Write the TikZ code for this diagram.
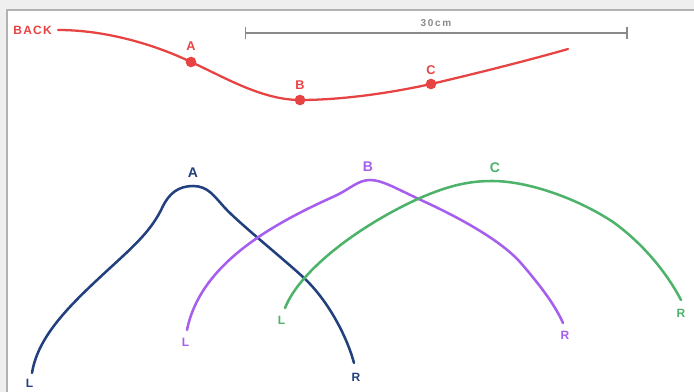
\documentclass[tikz,border=0pt]{standalone}
\usepackage{fontspec}
\setmainfont{Liberation Sans}
\definecolor{bred}{HTML}{E84343}
\definecolor{bnavy}{HTML}{223F7E}
\definecolor{bpurple}{HTML}{A65EEE}
\definecolor{bgreen}{HTML}{4DB36B}
\definecolor{bgray}{HTML}{8A8A8A}
\definecolor{outer}{HTML}{EFEFEF}
\begin{document}
\begin{tikzpicture}[x=0.75pt,y=-0.75pt,
  curve/.style={line width=1.9pt,line cap=round},
  lbl/.style={font=\bfseries\fontsize{10.5}{12}\selectfont,inner sep=0pt},
  endlbl/.style={font=\bfseries\fontsize{9}{11}\selectfont,inner sep=0pt},
  dot/.style={circle,fill=bred,inner sep=0pt,minimum size=8pt}]
\useasboundingbox (0,0) rectangle (694,392);
\fill[outer] (0,0) rectangle (694,392);
\fill[white,draw=gray!60,line width=1.1pt] (7,10) rectangle (710,410);
% scale bar
\coordinate (s1) at (245.5,33);
\coordinate (s2) at (627,33);
\draw[bgray,line width=1.1pt] (s1) -- (s2);
\draw[bgray,line width=1.1pt] ([yshift=-4.5]s1) -- ([yshift=4.5]s1);
\draw[bgray,line width=1.1pt] ([yshift=-4.5]s2) -- ([yshift=4.5]s2);
\node[bgray,font=\bfseries\fontsize{7.5}{9}\selectfont,inner sep=0pt] (scale) at (436,23) {3\,0\,c\,m};
% back curve
\node[bred,inner sep=0pt,font=\bfseries\fontsize{9}{11}\selectfont,anchor=east] (back) at (52,30.5) {B\kern0.9pt A\kern0.9pt C\kern0.9pt K};
\coordinate (r0) at (58,30);
\coordinate (r4) at (568,49);
\node[dot] (pA) at (191,62) {};
\node[dot] (pB) at (300,100) {};
\node[dot] (pC) at (431,84) {};
\draw[bred,curve,line width=1.7pt] (r0) .. controls (110,30) and (160,47) .. (pA.center)
  .. controls (224,77) and (262,100) .. (pB.center)
  .. controls (345,100) and (395,92) .. (pC.center)
  .. controls (470,75) and (530,60) .. (r4);
\node[bred,lbl,font=\bfseries\fontsize{9.5}{11}\selectfont] (tpA) at (191,46.5) {A};
\node[bred,lbl,font=\bfseries\fontsize{9.5}{11}\selectfont] (tpB) at (300,85) {B};
\node[bred,lbl,font=\bfseries\fontsize{9.5}{11}\selectfont] (tpC) at (431,70) {C};
% A arch (navy)
\node[bnavy,lbl] (tA) at (193,173) {A};
\node[bnavy,endlbl] (lA) at (29.5,383) {L};
\node[bnavy,endlbl] (rA) at (356,377) {R};
\draw[bnavy,curve] (32,373) .. controls (38,335) and (72,303) .. (110,268)
  .. controls (135,245) and (152,230) .. (163,206)
  .. controls (169,194) and (178,186) .. (193,186)
  .. controls (208,186) and (214,196) .. (225,208)
  .. controls (240,224) and (280,256) .. (303,277)
  .. controls (330,302) and (348,340) .. (354,363);
% B arch (purple)
\node[bpurple,lbl] (tB) at (368,167) {B};
\node[bpurple,endlbl] (lB) at (185.5,342) {L};
\node[bpurple,endlbl] (rB) at (565,335) {R};
\draw[bpurple,curve] (187,330) .. controls (200,265) and (270,225) .. (335,196)
  .. controls (350,189) and (358,180) .. (370,180)
  .. controls (382,180) and (395,188) .. (423,201)
  .. controls (460,218) and (500,240) .. (520,262)
  .. controls (540,285) and (555,305) .. (563,323);
% C arch (green)
\node[bgreen,lbl] (tC) at (495,168) {C};
\node[bgreen,endlbl] (lC) at (281.5,320) {L};
\node[bgreen,endlbl] (rC) at (681,313.5) {R};
\draw[bgreen,curve] (285,308) .. controls (300,270) and (360,225) .. (420,198)
  .. controls (450,185) and (470,181) .. (492,181)
  .. controls (530,181) and (580,200) .. (613,222)
  .. controls (645,245) and (668,275) .. (681,300);
\end{tikzpicture}
\end{document}
